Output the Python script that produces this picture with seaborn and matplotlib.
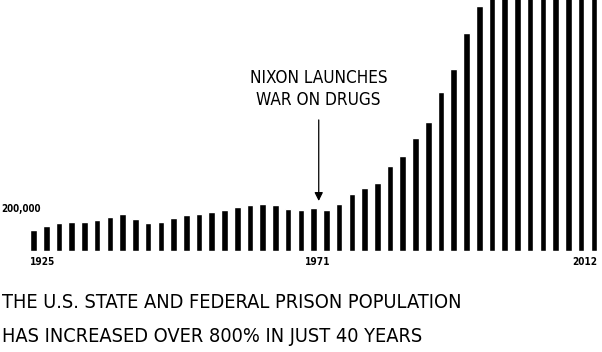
import matplotlib
matplotlib.use("Agg")
import matplotlib.pyplot as plt
import seaborn as sns
import pandas as pd

# 每兩年一根柱子 (單位: 千人)
years = [1925 + 2 * i for i in range(45)]
prisoners = [99, 119, 133, 140, 140, 146, 163, 178, 152, 133,
             140, 157, 170, 178, 184, 194, 208, 218, 225, 218,
             201, 194, 203, 197, 225, 270, 299, 324, 403, 454,
             536, 615, 756, 865, 1040, 1167, 1250, 1330, 1390, 1450,
             1510, 1550, 1560, 1540, 1515]
year_labels = ["1925", "1971", "2012"]
label_pos = [-0.26, 22.33, 44.26]
label_ha = ["left", "center", "right"]

df = pd.DataFrame({"year": years, "prisoners": prisoners})

sns.set_style("white")
plt.rcParams['font.family'] = ['DejaVu Sans']
plt.rcParams['font.stretch'] = 'condensed'
plt.rcParams['text.color'] = 'black'

fig = plt.figure(figsize=(6.02, 3.52), dpi=100)
ax = fig.add_axes([0.045, 0.287, 0.952, 0.713])
sns.barplot(x="year", y="prisoners", data=df, color="black", width=0.52,
            saturation=1, ax=ax)
ax.set_xlim(-0.5, 44.5)
ax.set_ylim(0, 1195)
ax.axis("off")

for lab, xp, ha in zip(year_labels, label_pos, label_ha):
    ax.text(xp, -0.024, lab, transform=ax.get_xaxis_transform(), ha=ha, va="top",
            fontsize=7.2, fontweight="bold", fontstretch="condensed", clip_on=False)

fig.text(1 / 602, (352 - 209.5) / 352, "200,000", ha="left", va="center",
         fontsize=7, fontweight="bold", fontstretch="condensed")

ax.text(22.4, 771, "NIXON LAUNCHES\nWAR ON DRUGS", ha="center", va="center",
        fontsize=12.3, fontstretch="condensed", linespacing=1.3)
ax.annotate("", xy=(22.4, 238), xytext=(22.4, 624),
            arrowprops=dict(arrowstyle="-|>,head_length=0.5,head_width=0.25",
                            color="black", lw=0.9, shrinkA=0, shrinkB=0))

fig.text(2 / 602, (352 - 302) / 352, "THE U.S. STATE AND FEDERAL PRISON POPULATION",
         ha="left", va="center", fontsize=14.3, fontstretch="condensed")
fig.text(2 / 602, (352 - 336) / 352, "HAS INCREASED OVER 800% IN JUST 40 YEARS",
         ha="left", va="center", fontsize=14.3, fontstretch="condensed")

fig.savefig("out.png", dpi=100)
